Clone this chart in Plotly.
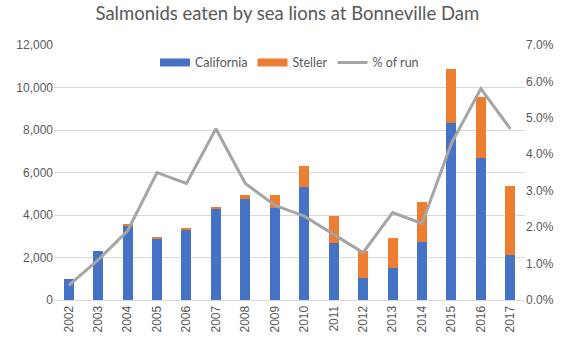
import plotly.graph_objects as go

years = [str(y) for y in range(2002, 2018)]
california = [975, 2290, 3520, 2900, 3280, 4320, 4740, 4320, 5320,
              2670, 1020, 1490, 2720, 8320, 6670, 2100]
totals = [975, 2290, 3560, 2970, 3390, 4360, 4940, 4940, 6290,
          3940, 2310, 2900, 4600, 10860, 9540, 5350]
steller = [t - c for t, c in zip(totals, california)]
pct_of_run = [0.4, 1.1, 1.9, 3.5, 3.2, 4.7, 3.2, 2.6, 2.3,
              1.8, 1.3, 2.4, 2.1, 4.3, 5.8, 4.7]

left_ticks = [0, 2000, 4000, 6000, 8000, 10000, 12000]
right_ticks = [0, 1, 2, 3, 4, 5, 6, 7]

text_color = "#595959"
grid_color = "#D9D9D9"
blue, orange, gray = "#4472C4", "#ED7D31", "#A5A5A5"

fig = go.Figure()
fig.add_trace(go.Bar(x=years, y=california, name="California", showlegend=False,
                     legendgroup="ca", marker=dict(color=blue, line=dict(width=0))))
fig.add_trace(go.Bar(x=years, y=steller, name="Steller", showlegend=False,
                     legendgroup="st", marker=dict(color=orange, line=dict(width=0))))
fig.add_trace(go.Scatter(x=years, y=pct_of_run, name="% of run", yaxis="y2",
                         mode="lines", line=dict(color=gray, width=3),
                         showlegend=False, legendgroup="pct"))

# legend entries drawn as wide flat swatches
fig.add_trace(go.Scatter(x=[None], y=[None], name="California", mode="lines",
                         legendgroup="ca", line=dict(color=blue, width=8)))
fig.add_trace(go.Scatter(x=[None], y=[None], name="Steller", mode="lines",
                         legendgroup="st", line=dict(color=orange, width=8)))
fig.add_trace(go.Scatter(x=[None], y=[None], name="% of run", mode="lines",
                         legendgroup="pct", line=dict(color=gray, width=3)))

fig.update_layout(
    width=569, height=344,
    margin=dict(l=54, r=44, t=45, b=44),
    paper_bgcolor="white", plot_bgcolor="white",
    barmode="stack", bargap=0.66,
    title=dict(text="Salmonids eaten by sea lions at Bonneville Dam",
               x=0.505, xanchor="center", y=0.96, yanchor="middle",
               font=dict(family="Lato", size=18.5, color=text_color)),
    legend=dict(orientation="h", x=0.5, xanchor="center", y=0.93, yanchor="middle",
                font=dict(family="Lato", size=12.5, color=text_color),
                bgcolor="rgba(0,0,0,0)", traceorder="normal"),
    font=dict(family="Liberation Sans", size=12, color=text_color),
    xaxis=dict(type="category", tickangle=-90, showgrid=False,
               showline=True, linecolor=grid_color, ticks="",
               tickfont=dict(size=12, color=text_color)),
    yaxis=dict(range=[0, 12000], tickvals=left_ticks,
               ticktext=[f"{v:,}" for v in left_ticks],
               showgrid=True, gridcolor=grid_color, zeroline=False,
               ticks="", tickfont=dict(size=12, color=text_color)),
    yaxis2=dict(range=[0, 7], tickvals=right_ticks,
                ticktext=[f"{v:.1f}%" for v in right_ticks],
                overlaying="y", side="right", showgrid=False, zeroline=False,
                ticks="", tickfont=dict(size=12, color=text_color)),
)

fig.write_html("out.html")
